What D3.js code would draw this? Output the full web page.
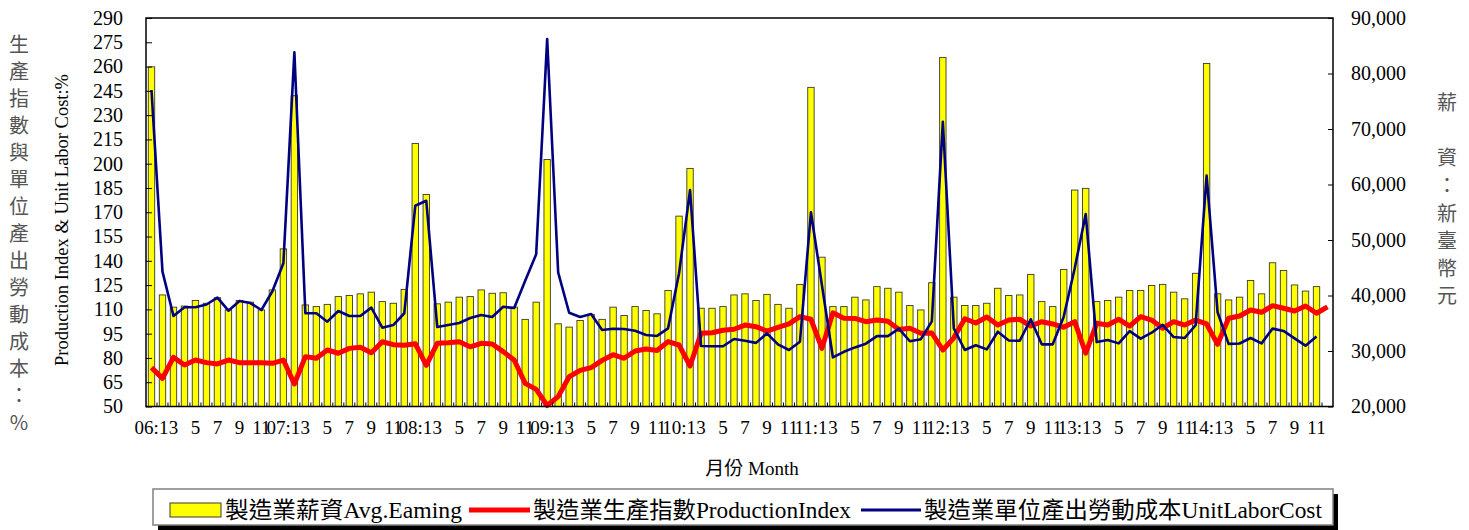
<!DOCTYPE html>
<html><head><meta charset="utf-8">
<script src="https://cdn.jsdelivr.net/npm/d3@7"></script>
<style>
body{margin:0;background:#fff}
text{font-family:"Liberation Serif","Times New Roman","Noto Sans CJK TC",serif}
</style>
</head><body>
<svg id="c" width="1469" height="530"></svg>
<script>
// ---- data ----
const years = ["06","07","08","09","10","11","12","13","14"];
const monthNums = [1,2,3,4,5,6,7,8,9,10,11,12];
const categories = years.flatMap(y => monthNums.map(m => y + ":" + m));
const tickLabels = categories.map((c,i) => { const [y,m] = c.split(":"); return m==="1" ? y+":1" : m; });

const wage = [81200,40100,37900,38100,39100,38600,39600,37400,39100,38800,37400,41000,
48400,76000,38300,38000,38400,39800,40000,40300,40600,38900,38600,41100,
67400,58200,38500,38800,39700,39800,41000,40400,40500,37900,35700,38800,
64500,34900,34300,35500,36600,35700,37900,36400,38000,37300,36700,40900,
54300,62900,37700,37700,38000,40100,40300,39100,40200,38400,37700,42000,
77500,46900,38000,38000,39700,39200,41600,41300,40600,38200,37400,42300,
82900,39700,38200,38200,38600,41300,40000,40100,43800,38900,38000,44700,
59000,59300,38900,39100,39700,40900,40900,41800,42000,40600,39400,44000,
81800,40300,39200,39700,42700,40300,45900,44500,41900,40800,41600];

const production = [74.0,67.4,80.4,75.6,78.7,77.1,76.3,78.7,77.1,77.1,77.1,76.7,
78.7,63.9,80.8,79.8,84.9,82.9,85.9,86.6,83.2,90.0,88.2,87.8,
88.8,75.4,89.0,89.4,90.0,86.9,89.0,88.6,83.9,78.7,64.3,60.6,
50.6,56.1,68.4,72.3,74.0,78.5,82.0,79.8,84.3,85.5,84.6,90.1,
88.0,75.0,95.2,95.6,97.1,97.7,100.3,99.3,96.6,98.9,101.0,105.5,
103.9,85.9,107.9,104.5,104.4,102.4,103.4,102.6,97.6,98.3,95.2,95.4,
84.9,92.4,104.2,101.6,105.3,100.3,103.4,103.9,99.7,102.4,101.0,98.9,
102.4,82.9,101.4,100.3,103.9,99.7,105.5,103.4,98.3,102.4,100.3,103.4,
101.0,88.4,104.5,105.9,109.6,108.2,112.3,110.7,109.0,112.1,107.6,111.6];

const laborCost = [245.5,133.3,105.9,111.3,111.3,113.0,117.3,109.2,115.2,113.9,109.6,121.2,
138.5,268.8,107.6,107.6,102.4,109.0,105.9,105.9,111.1,98.7,100.3,107.6,
174.0,177.1,99.1,100.3,101.6,104.7,106.5,105.3,111.6,110.8,127.7,144.0,
277.0,132.9,107.9,105.3,107.1,97.3,98.0,97.9,96.8,94.2,93.6,98.3,
132.3,183.7,87.4,87.2,87.2,91.7,90.6,89.3,95.2,88.4,84.9,90.0,
170.0,125.0,80.3,83.8,86.5,88.8,93.5,93.5,98.1,90.3,91.6,102.6,
225.9,98.3,84.9,87.8,85.3,96.2,90.8,90.6,103.9,88.4,88.4,105.5,
135.4,168.9,89.8,91.1,89.0,96.6,91.9,95.6,100.5,92.9,92.3,100.3,
192.6,108.2,88.7,88.9,92.3,89.0,98.1,96.7,92.1,87.6,93.3];

const leftTicks = d3.range(50, 291, 15);
const rightTicks = d3.range(20000, 90001, 10000);
const leftTitle = ["生","產","指","數","與","單","位","產","出","勞","動","成","本","：","%"];
const rightTitle = ["薪","　","資","：","新","臺","幣","元"];
const seriesNames = ["製造業薪資Avg.Eaming","製造業生產指數ProductionIndex","製造業單位產出勞動成本UnitLaborCost"];

// ---- layout ----
const L = 146, R = 1333, T = 18, B = 406.5;
const svg = d3.select("#c");
const x = d3.scaleBand().domain(d3.range(categories.length)).range([L, R]);
const bw = x.bandwidth();
const yL = d3.scaleLinear().domain([50, 290]).range([B, T]);
const yR = d3.scaleLinear().domain([20000, 90000]).range([B, T]);

// bars
svg.append("g").selectAll("rect").data(wage).join("rect")
  .attr("x", (d,i) => x(i) + bw/2 - 3.2)
  .attr("width", 6.4)
  .attr("y", d => yR(d))
  .attr("height", d => B - yR(d))
  .attr("fill", "#ffff00")
  .attr("stroke", "#3a3a2a")
  .attr("stroke-width", 0.9);

// lines
const line = d3.line().x((d,i) => x(i) + bw/2).y(d => yL(d));
svg.append("path").datum(production).attr("d", line)
  .attr("fill","none").attr("stroke","#ff0000").attr("stroke-width",5).attr("stroke-linejoin","round");
svg.append("path").datum(laborCost).attr("d", line)
  .attr("fill","none").attr("stroke","#000080").attr("stroke-width",2.6).attr("stroke-linejoin","round");

// frame
svg.append("rect").attr("x",L).attr("y",T).attr("width",R-L).attr("height",B-T)
  .attr("fill","none").attr("stroke","#000").attr("stroke-width",1.5);

// left axis
const gl = svg.append("g").attr("transform",`translate(${L},0)`)
  .call(d3.axisLeft(yL).tickValues(leftTicks).tickSizeInner(-6).tickSizeOuter(0).tickPadding(23));
gl.select(".domain").remove();
gl.selectAll("text").attr("font-size",20).attr("fill","#000").style("font-family","'Liberation Serif',serif");
gl.selectAll("line").attr("stroke","#000");

// right axis
const gr = svg.append("g").attr("transform",`translate(${R},0)`)
  .call(d3.axisRight(yR).tickValues(rightTicks).tickSizeInner(-5).tickSizeOuter(0).tickPadding(18).tickFormat(d3.format(",")));
gr.select(".domain").remove();
gr.selectAll("text").attr("font-size",20).attr("fill","#000").style("font-family","'Liberation Serif',serif");
gr.selectAll("line").attr("stroke","#000");

// bottom axis
const gb = svg.append("g").attr("transform",`translate(0,${B})`)
  .call(d3.axisBottom(x).tickValues(d3.range(0, categories.length, 2)).tickSize(0).tickPadding(14)
    .tickFormat(i => tickLabels[i]));
gb.select(".domain").remove();
gb.selectAll("text").attr("font-size",19).attr("fill","#000").style("font-family","'Liberation Serif',serif");
// category boundary ticks
svg.append("g").selectAll("line").data(d3.range(1, categories.length)).join("line")
  .attr("x1", i => x(i)).attr("x2", i => x(i)).attr("y1", B).attr("y2", B-4)
  .attr("stroke","#000").attr("stroke-width",1);

// titles
svg.append("g").selectAll("text").data(leftTitle).join("text")
  .attr("x",19).attr("y",(d,i)=>45+i*27).attr("dy","0.36em").attr("text-anchor","middle")
  .attr("font-size",20).attr("fill","#555").style("font-family","'Noto Sans CJK TC','Liberation Serif',sans-serif")
  .text(d=>d);
svg.append("g").selectAll("text").data(rightTitle).join("text")
  .attr("x",1447).attr("y",(d,i)=>103+i*27.6).attr("dy","0.36em").attr("text-anchor","middle")
  .attr("font-size",20).attr("fill","#555").style("font-family","'Noto Sans CJK TC','Liberation Serif',sans-serif")
  .text(d=>d);
svg.append("text").attr("transform","translate(68,220) rotate(-90)").attr("text-anchor","middle")
  .attr("font-size",18).attr("textLength",292).attr("lengthAdjust","spacingAndGlyphs")
  .text("Production Index & Unit Labor Cost:%");
svg.append("text").attr("x",752).attr("y",475).attr("text-anchor","middle").attr("font-size",19)
  .text("月份 Month");

// legend
svg.append("rect").attr("x",158).attr("y",494).attr("width",1180).attr("height",36).attr("fill","#000");
svg.append("rect").attr("x",153).attr("y",489).attr("width",1180).attr("height",36)
  .attr("fill","#fff").attr("stroke","#808080").attr("stroke-width",1.5);
const lg = svg.append("g");
lg.append("rect").attr("x",170).attr("y",503).attr("width",51).attr("height",14)
  .attr("fill","#ffff00").attr("stroke","#3a3a2a").attr("stroke-width",1);
lg.append("line").attr("x1",469).attr("x2",530).attr("y1",510).attr("y2",510).attr("stroke","#ff0000").attr("stroke-width",5);
lg.append("line").attr("x1",861).attr("x2",921).attr("y1",510).attr("y2",510).attr("stroke","#000080").attr("stroke-width",3);
const legendPos = [[225,237],[533,318],[924,398]];
lg.selectAll("text").data(seriesNames).join("text")
  .attr("x",(d,i)=>legendPos[i][0]).attr("y",518)
  .attr("font-size",23).attr("textLength",(d,i)=>legendPos[i][1]).attr("lengthAdjust","spacingAndGlyphs")
  .text(d=>d);
</script>
</body></html>
